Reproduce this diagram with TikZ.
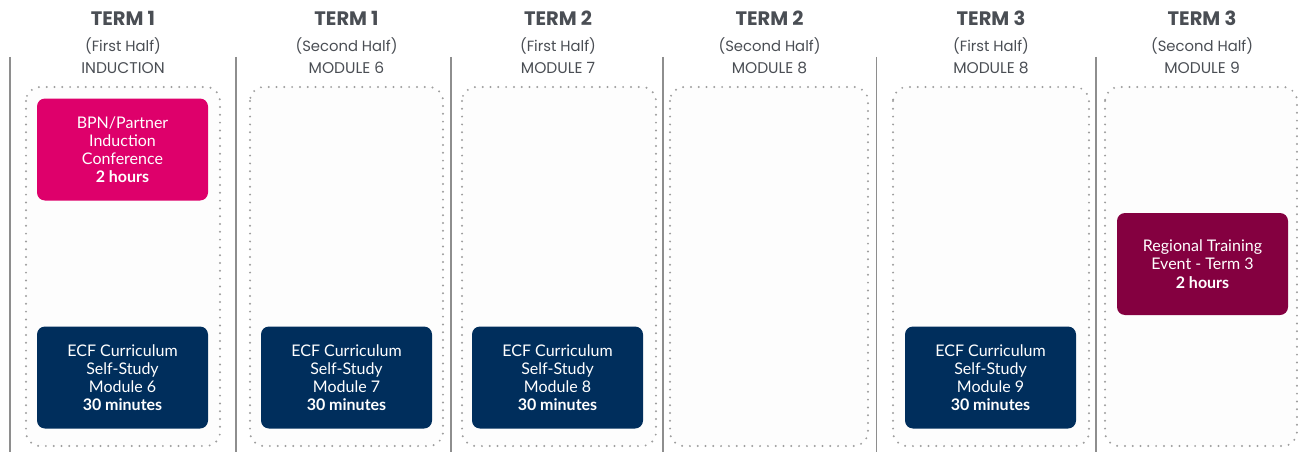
\documentclass[tikz,border=0pt]{standalone}
\usepackage{fontspec}
\setmainfont{Lato}
\newfontfamily\headfont{Poppins}
\usetikzlibrary{positioning}
\definecolor{P}{HTML}{DE006B}
\definecolor{N}{HTML}{002E5C}
\definecolor{M}{HTML}{840040}
\definecolor{G}{HTML}{4A4E54}
\definecolor{L}{HTML}{8E8E8E}

\begin{document}
\begin{tikzpicture}[x=1pt, y=-1pt,
  term/.style = {anchor=base, text=G, inner sep=0pt,
    font=\headfont\bfseries\fontsize{19.5}{22}\selectfont},
  half/.style = {anchor=base, text=G, inner sep=0pt,
    font=\headfont\fontsize{14.8}{17}\selectfont},
  module/.style = {half, font=\headfont\fontsize{15.5}{17}\selectfont},
  sep/.style = {draw=L, line width=1.4pt},
  slot/.style = {draw=black!38, line width=2.2pt,
    dash pattern=on 0pt off 7.8pt, line cap=round,
    rounded corners=14pt, fill=black!0.6},
  block/.style = {rounded corners=8pt, minimum width=171pt,
    minimum height=102pt, text=white, align=center, inner sep=0pt,
    font=\fontsize{16}{18.2}\selectfont}]

      \useasboundingbox (0,0) rectangle (1298,452);

      % column rules
      \draw[sep] (10,57) -- (10,452);
      \draw[sep] (236,57) -- (236,452);
      \draw[sep] (451,57) -- (451,452);
      \draw[sep] (663,57) -- (663,452);
      \draw[sep] (876.5,57) -- (876.5,452);
      \draw[sep] (1096,57) -- (1096,452);

      % dotted slots
      \draw[slot] (26,87) rectangle (220,446);
      \draw[slot] (250,87) rectangle (443,446);
      \draw[slot] (462,87) rectangle (656,446);
      \draw[slot] (670,87) rectangle (868,446);
      \draw[slot] (893,87) rectangle (1089,446);
      \draw[slot] (1105,87) rectangle (1297,446);

      % headers
      \node[term] (t1) at (123,26) {TERM 1};
      \node[half] (h1) at (123,51.5) {(First Half)};
      \node[module] (m1) at (123,73.3) {INDUCTION};

      \node[term] (t2) at (346.5,26) {TERM 1};
      \node[half] (h2) at (346.5,51.5) {(Second Half)};
      \node[module] (m2) at (346.5,73.3) {MODULE 6};

      \node[term] (t3) at (558,26) {TERM 2};
      \node[half] (h3) at (558,51.5) {(First Half)};
      \node[module] (m3) at (558,73.3) {MODULE 7};

      \node[term] (t4) at (769.5,26) {TERM 2};
      \node[half] (h4) at (769.5,51.5) {(Second Half)};
      \node[module] (m4) at (769.5,73.3) {MODULE 8};

      \node[term] (t5) at (991,26) {TERM 3};
      \node[half] (h5) at (991,51.5) {(First Half)};
      \node[module] (m5) at (991,73.3) {MODULE 8};

      \node[term] (t6) at (1202,26) {TERM 3};
      \node[half] (h6) at (1202,51.5) {(Second Half)};
      \node[module] (m6) at (1202,73.3) {MODULE 9};

      % sessions
      \node[block, fill=P] (conf) at (122.5,149.5)
      {BPN/Partner\\Induction\\Conference\\\bfseries 2 hours};

      \node[block, fill=N] (ecf6) at (122.5,377.5)
      {ECF Curriculum\\Self-Study\\Module 6\\\bfseries 30 minutes};

      \node[block, fill=N] (ecf7) at (346.5,377.5)
      {ECF Curriculum\\Self-Study\\Module 7\\\bfseries 30 minutes};

      \node[block, fill=N] (ecf8) at (557.5,377.5)
      {ECF Curriculum\\Self-Study\\Module 8\\\bfseries 30 minutes};

      \node[block, fill=N] (ecf9) at (990.5,377.5)
      {ECF Curriculum\\Self-Study\\Module 9\\\bfseries 30 minutes};

      \node[block, fill=M] (rte) at (1202.5,264)
      {Regional Training\\Event - Term 3\\\bfseries 2 hours};
    \end{tikzpicture}
\end{document}
